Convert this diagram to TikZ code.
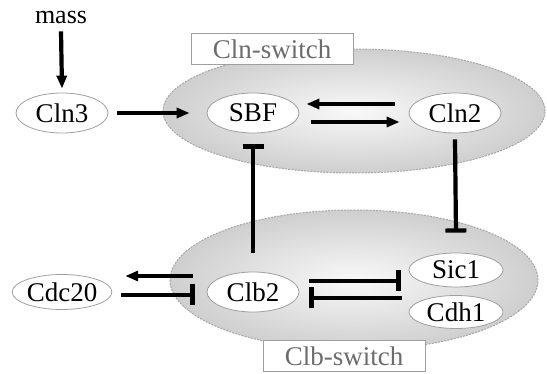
\documentclass[tikz,border=0pt]{standalone}
\usepackage{fontspec}
\setmainfont{Liberation Serif}
\usetikzlibrary{arrows.meta,shapes.geometric}

\begin{document}
\begin{tikzpicture}[x=1pt,y=-1pt,
  species/.style={ellipse, draw=gray!75, line width=0.8pt, fill=white,
    minimum width=92pt, minimum height=40pt, inner sep=0pt,
    font=\fontsize{27}{32}\selectfont},
  region/.style={ellipse, draw=gray!70, dash pattern=on 2pt off 1.2pt,
    line width=1pt, inner color=gray!5, outer color=gray!38},
  tag/.style={rectangle, draw=gray!75, fill=white, line width=0.9pt,
    text=gray!85!black, minimum width=162pt, minimum height=31pt,
    inner sep=0pt, font=\fontsize{27}{32}\selectfont},
  act/.style={line width=4.2pt, -{Triangle[length=13pt,width=10pt]}},
  inh/.style={line width=4.2pt, -{Bar[width=21pt]}}
]
\useasboundingbox (0,0) rectangle (547,374);

% the two switch regions
\node[region, minimum width=382pt, minimum height=124pt] (clnreg) at (354,111) {};
\node[region, minimum width=368pt, minimum height=140pt] (clbreg) at (354,280) {};
\node[tag] (clntag) at (272,49) {Cln-switch};
\node[tag] (clbtag) at (344,356) {Clb-switch};

% species
\node[inner sep=0pt, font=\fontsize{26}{31}\selectfont] (mass) at (61,18) {mass};
\node[species] (cln3) at (62,113) {Cln3};
\node[species] (sbf) at (253,113) {SBF};
\node[species] (cln2) at (455,113) {Cln2};
\node[species] (clb2) at (253,292) {Clb2};
\node[species, minimum width=93pt, minimum height=35pt] (cdc20) at (62,292) {Cdc20};
\node[species, minimum width=94pt, minimum height=34pt] (sic1) at (456,270) {Sic1};
\node[species, minimum width=94pt, minimum height=33pt] (cdh1) at (456,312) {Cdh1};

% activation
\draw[act] ([yshift=-7pt]mass.south) -- ([yshift=4pt]cln3.north);
\draw[act] ([xshift=9pt]cln3.east) -- ([xshift=-17pt]sbf.west);
\draw[act] ([xshift=-14pt,yshift=9pt]cln2.west) -- ([xshift=7pt,yshift=9pt]sbf.east);
\draw[act] ([xshift=12pt,yshift=-9pt]sbf.east) -- ([xshift=-9pt,yshift=-9pt]cln2.west);
\draw[act] ([xshift=-14pt,yshift=16pt]clb2.west) -- ([xshift=13pt,yshift=16pt]cdc20.east);

% inhibition
\draw[inh] ([yshift=19pt]clb2.north) -- ([yshift=-11pt]sbf.south);
\draw[inh] ([yshift=-6pt]cln2.south) -- ([yshift=20pt]sic1.north);
\draw[inh] ([xshift=9pt,yshift=-3pt]cdc20.east) -- ([xshift=-12pt,yshift=-3pt]clb2.west);
\draw[inh] ([xshift=10pt,yshift=11pt]clb2.east) -- ([xshift=-8pt,yshift=-11pt]sic1.west);
\draw[inh] ([xshift=-7pt,yshift=-28pt]sic1.west) -- ([xshift=10pt,yshift=-6pt]clb2.east);
\end{tikzpicture}
\end{document}
